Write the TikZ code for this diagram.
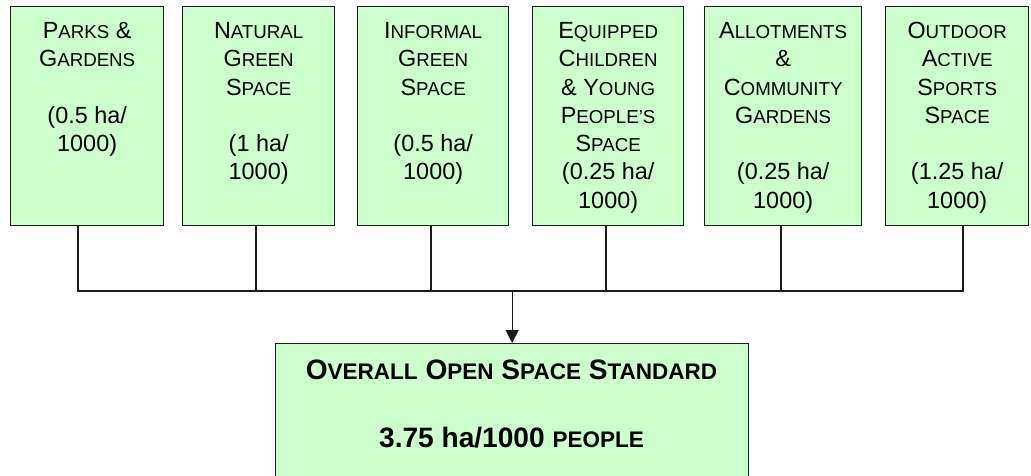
\documentclass[tikz,border=0pt]{standalone}
\usepackage{fontspec}
\setmainfont{Liberation Sans}
\usetikzlibrary{arrows.meta}
\definecolor{boxgreen}{HTML}{CCFFCC}
\definecolor{edge}{HTML}{1A1A1A}
\newcommand\topfont{\fontsize{23.4pt}{28.3pt}\selectfont}
\newcommand\SC[2]{#1{\fontsize{18.7pt}{28.3pt}\selectfont #2}}
\newcommand\boxtext[1]{\begin{tabular}{@{}c@{}}#1\end{tabular}}
\newcommand\botfont{\fontsize{28.1pt}{34pt}\selectfont\bfseries}
\newcommand\BSC[2]{#1{\fontsize{22.5pt}{34pt}\selectfont #2}}
\begin{document}
\begin{tikzpicture}[x=1pt,y=-1pt,
  box/.style={draw=edge, line width=1.3pt, fill=boxgreen, rectangle, inner sep=0pt, anchor=north west},
  txt/.style={inner sep=0pt, font=\topfont, anchor=north},
  btxt/.style={inner sep=0pt, font=\botfont, anchor=base},
  conn/.style={draw=edge, line width=1.3pt}]
\fill[white] (0,0) rectangle (1031,475);
\path[use as bounding box] (0,0) rectangle (1031,475);
\clip (0,0) rectangle (1031,475);
% top boxes
\node[box, minimum width=153pt, minimum height=219pt] (b1) at (10,6) {};
\node[box, minimum width=152pt, minimum height=219pt] (b2) at (182,6) {};
\node[box, minimum width=151pt, minimum height=219pt] (b3) at (357,6) {};
\node[box, minimum width=151pt, minimum height=219pt] (b4) at (532,6) {};
\node[box, minimum width=157pt, minimum height=219pt] (b5) at (704,6) {};
\node[box, minimum width=143pt, minimum height=219pt] (b6) at (885,6) {};
% texts
\node[txt] (t1) at ([yshift=-12.4pt]b1.north) {\boxtext{\SC{P}{ARKS} \&\\ \SC{G}{ARDENS}\\ \\ (0.5 ha/\\ 1000)}};
\node[txt] (t2) at ([yshift=-12.4pt]b2.north) {\boxtext{\SC{N}{ATURAL}\\ \SC{G}{REEN}\\ \SC{S}{PACE}\\ \\ (1 ha/\\ 1000)}};
\node[txt] (t3) at ([yshift=-12.4pt]b3.north) {\boxtext{\SC{I}{NFORMAL}\\ \SC{G}{REEN}\\ \SC{S}{PACE}\\ \\ (0.5 ha/\\ 1000)}};
\node[txt] (t4) at ([yshift=-12.4pt]b4.north) {\boxtext{\SC{E}{QUIPPED}\\ \SC{C}{HILDREN}\\ \& \SC{Y}{OUNG}\\ \SC{P}{EOPLE’S}\\ \SC{S}{PACE}\\ (0.25 ha/\\ 1000)}};
\node[txt] (t5) at ([yshift=-12.4pt]b5.north) {\boxtext{\SC{A}{LLOTMENTS}\\ \&\\ \SC{C}{OMMUNITY}\\ \SC{G}{ARDENS}\\ \\ (0.25 ha/\\ 1000)}};
\node[txt] (t6) at ([yshift=-12.4pt]b6.north) {\boxtext{\SC{O}{UTDOOR}\\ \SC{A}{CTIVE}\\ \SC{S}{PORTS}\\ \SC{S}{PACE}\\ \\ (1.25 ha/\\ 1000)}};
% bottom box
\node[box, minimum width=473pt, minimum height=145pt] (bot) at (275,343) {};
\node[btxt] (bt1) at (511.5,379.5) {\BSC{O}{VERALL} \BSC{O}{PEN} \BSC{S}{PACE} \BSC{S}{TANDARD}};
\node[btxt] (bt2) at (511.5,447) {3.75 ha/1000 \BSC{}{PEOPLE}};
% connectors
\coordinate (j1) at (78,291);
\coordinate (j2) at (256,291);
\coordinate (j3) at (431,291);
\coordinate (j4) at (606,291);
\coordinate (j5) at (781,291);
\coordinate (j6) at (963,291);
\coordinate (m) at (bot.north |- j1);
\foreach \i in {1,...,6} {\draw[conn] (b\i.south -| j\i) -- (j\i);}
\draw[conn, line cap=rect] (j1) -- (j6);
\draw[conn, -{Triangle[width=13pt,length=13pt]}] (m) -- (bot.north);
\end{tikzpicture}
\end{document}
